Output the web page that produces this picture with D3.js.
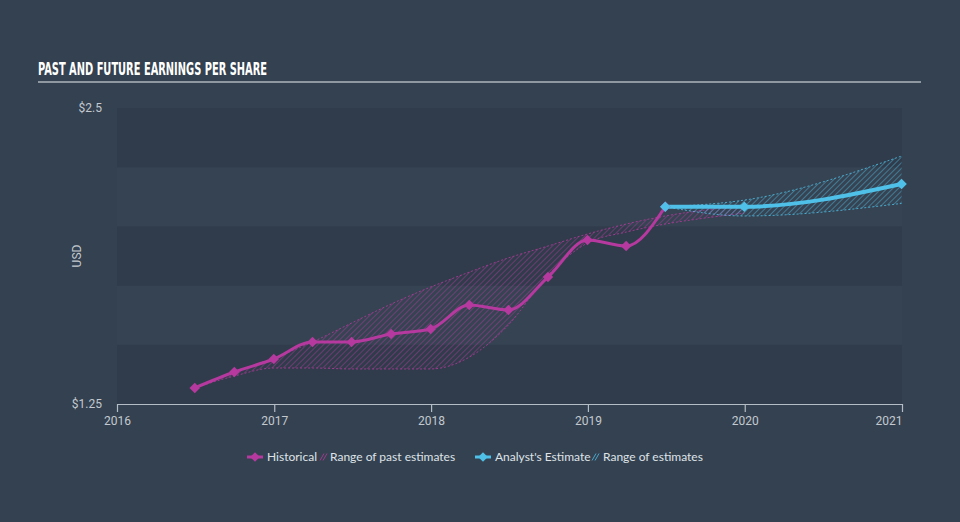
<!DOCTYPE html>
<html>
<head>
<meta charset="utf-8">
<script src="https://cdn.jsdelivr.net/npm/d3@7"></script>
<style>
html,body{margin:0;padding:0;background:#344150;}
svg{display:block;}
</style>
</head>
<body>
<svg id="chart" width="960" height="522"></svg>
<script>
// ---- data ----
const histDates = ["2016-06-30","2016-09-30","2016-12-31","2017-03-31","2017-06-30","2017-09-30","2017-12-31","2018-03-31","2018-06-30","2018-09-30","2018-12-31","2019-03-31","2019-06-30"];
const histValues = [1.318,1.385,1.44,1.512,1.512,1.546,1.567,1.668,1.647,1.786,1.943,1.917,2.083];

const pastRangeDates = ["2016-06-30","2016-09-30","2016-12-31","2017-03-31","2017-06-30","2017-09-30","2017-12-31","2018-03-31","2018-06-30","2018-09-30","2018-12-31","2019-03-31","2019-06-30","2019-09-30","2019-12-31"];
const pastRangeHigh = [1.318,1.385,1.444,1.512,1.592,1.672,1.744,1.807,1.867,1.917,1.968,2.010,2.044,2.069,2.086];
const pastRangeLow  = [1.318,1.368,1.402,1.402,1.398,1.398,1.398,1.448,1.584,1.795,1.930,1.976,2.010,2.035,2.056];

const estDates = ["2019-06-30","2019-12-31","2020-12-31"];
const estValues = [2.083,2.083,2.179];
const estHigh = [2.083,2.111,2.297];
const estLow  = [2.083,2.044,2.097];

const yearTicks = [2016,2017,2018,2019,2020,2021];
const yBandTicks = [1.25,1.5,1.75,2.0,2.25,2.5];
const yLabelTicks = [1.25,2.5];

const legendItems = ["Historical","Range of past estimates","Analyst's Estimate","Range of estimates"];
const titleText = "PAST AND FUTURE EARNINGS PER SHARE";

// ---- setup ----
const parse = d3.timeParse("%Y-%m-%d");
const svg = d3.select("#chart");
const W = 960, H = 522;
const pL = 117, pR = 902, pT = 108, pB = 404;
const MAG = "#b5399e", BLUE = "#4fc0e8";

svg.append("rect").attr("width", W).attr("height", H).attr("fill", "#344150");

const x = d3.scaleTime().domain([new Date(2016,0,1), new Date(2021,0,1)]).range([pL, pR]);
const y = d3.scaleLinear().domain([1.25, 2.5]).range([pB, pT]);

// patterns
const defs = svg.append("defs");
function hatch(id, color, op){
  const p = defs.append("pattern").attr("id", id).attr("patternUnits","userSpaceOnUse")
    .attr("width", 4).attr("height", 4).attr("patternTransform","rotate(45)");
  p.append("line").attr("x1",0).attr("y1",0).attr("x2",0).attr("y2",4)
    .attr("stroke", color).attr("stroke-width", 1.2).attr("stroke-opacity", op);
}
hatch("hatchMag", MAG, 0.75);
hatch("hatchBlue", BLUE, 0.75);

// bands
const bands = d3.range(yBandTicks.length - 1).map(i => [yBandTicks[i], yBandTicks[i+1]]);
svg.append("g").selectAll("rect").data(bands).join("rect")
  .attr("x", pL).attr("width", pR - pL)
  .attr("y", d => y(d[1])).attr("height", d => y(d[0]) - y(d[1]))
  .attr("fill", (d,i) => (bands.length - 1 - i) % 2 === 0 ? "#303c4b" : "#364352");

// title
svg.append("text").attr("x", 38).attr("y", 75)
  .attr("font-family", "'Liberation Sans Narrow','DejaVu Sans Condensed',sans-serif")
  .attr("font-weight", "bold").attr("font-size", 18).attr("fill", "#ffffff")
  .attr("textLength", 229).attr("lengthAdjust", "spacingAndGlyphs")
  .text(titleText);
svg.append("line").attr("x1", 38).attr("x2", 921).attr("y1", 82).attr("y2", 82)
  .attr("stroke", "#aeb5bd").attr("stroke-width", 1.5);

// y axis labels
const yAxis = svg.append("g").attr("transform", `translate(${pL},0)`)
  .call(d3.axisLeft(y).tickValues(yLabelTicks).tickSize(0).tickPadding(15).tickFormat(d => "$" + d));
yAxis.select(".domain").remove();
yAxis.selectAll("text").attr("fill", "#c3c9cf").attr("font-size", 12)
  .attr("font-family", "Roboto, 'Open Sans', sans-serif");

svg.append("text").attr("transform", `translate(81,${(pT+pB)/2}) rotate(-90)`)
  .attr("text-anchor", "middle").attr("fill", "#c3c9cf").attr("font-size", 12)
  .attr("font-family", "Roboto, 'Open Sans', sans-serif").text("USD");

// x axis
const xAxis = svg.append("g").attr("transform", `translate(0,${pB})`)
  .call(d3.axisBottom(x).tickValues(yearTicks.map(yr => new Date(yr,0,1)))
    .tickSize(8).tickSizeOuter(0).tickPadding(4).tickFormat(d3.timeFormat("%Y")));
xAxis.select(".domain").attr("stroke", "#b4bcc6").attr("stroke-width", 1.2);
xAxis.selectAll(".tick line").attr("stroke", "#b4bcc6").attr("stroke-width", 1.2);
xAxis.selectAll("text").attr("fill", "#c3c9cf").attr("font-size", 12)
  .attr("font-family", "Roboto, 'Open Sans', sans-serif");
xAxis.selectAll(".tick").filter((d,i,n) => i === n.length - 1).select("text")
  .attr("text-anchor", "end");

// ranges
function rangeData(dates, lo, hi){ return dates.map((d,i) => ({t: parse(d), lo: lo[i], hi: hi[i]})); }
const pastR = rangeData(pastRangeDates, pastRangeLow, pastRangeHigh);
const estR = rangeData(estDates, estLow, estHigh);
const area = d3.area().x(d => x(d.t)).y0(d => y(d.lo)).y1(d => y(d.hi)).curve(d3.curveMonotoneX);
const hiLine = d3.line().x(d => x(d.t)).y(d => y(d.hi)).curve(d3.curveMonotoneX);
const loLine = d3.line().x(d => x(d.t)).y(d => y(d.lo)).curve(d3.curveMonotoneX);

function drawRange(data, fillId, color){
  svg.append("path").datum(data).attr("d", area).attr("fill", `url(#${fillId})`);
  [hiLine, loLine].forEach(l => svg.append("path").datum(data).attr("d", l)
    .attr("fill", "none").attr("stroke", color).attr("stroke-width", 1)
    .attr("stroke-dasharray", "2,2").attr("stroke-opacity", 0.8));
}
drawRange(pastR, "hatchMag", MAG);
drawRange(estR, "hatchBlue", BLUE);

// lines
const line = d3.line().x(d => x(d.t)).y(d => y(d.v)).curve(d3.curveMonotoneX);
const hist = histDates.map((d,i) => ({t: parse(d), v: histValues[i]}));
const est = estDates.map((d,i) => ({t: parse(d), v: estValues[i]}));

svg.append("path").datum(hist).attr("d", line).attr("fill", "none")
  .attr("stroke", MAG).attr("stroke-width", 3);
svg.append("path").datum(est).attr("d", line).attr("fill", "none")
  .attr("stroke", BLUE).attr("stroke-width", 4);

function marks(data, color){
  svg.append("g").selectAll("path").data(data).join("path")
    .attr("d", d3.symbol().type(d3.symbolSquare).size(55))
    .attr("transform", d => `translate(${x(d.t)},${y(d.v)}) rotate(45)`)
    .attr("fill", color);
}
marks(hist, MAG);
marks(est, BLUE);

// legend
const lg = svg.append("g").attr("font-family", "Lato, 'Open Sans', sans-serif")
  .attr("font-size", 12).attr("fill", "#dfe3e8");
const LY = 457;
function legendLine(x0, color){
  lg.append("line").attr("x1", x0).attr("x2", x0 + 16).attr("y1", LY).attr("y2", LY)
    .attr("stroke", color).attr("stroke-width", 3);
  lg.append("path").attr("d", d3.symbol().type(d3.symbolSquare).size(45))
    .attr("transform", `translate(${x0 + 8},${LY}) rotate(45)`).attr("fill", color);
}
function legendHatch(x0, color){
  for (let k = 0; k < 2; k++){
    lg.append("line").attr("x1", x0 + k*3).attr("y1", LY + 3.5).attr("x2", x0 + k*3 + 4).attr("y2", LY - 3.5)
      .attr("stroke", color).attr("stroke-width", 1).attr("stroke-opacity", 0.8);
  }
}
legendLine(247, MAG);
lg.append("text").attr("x", 267).attr("y", LY + 4).text(legendItems[0]);
legendHatch(320, MAG);
lg.append("text").attr("x", 330).attr("y", LY + 4).text(legendItems[1]);
legendLine(475, BLUE);
lg.append("text").attr("x", 495).attr("y", LY + 4).text(legendItems[2]);
legendHatch(592, BLUE);
lg.append("text").attr("x", 603).attr("y", LY + 4).text(legendItems[3]);
</script>
</body>
</html>
